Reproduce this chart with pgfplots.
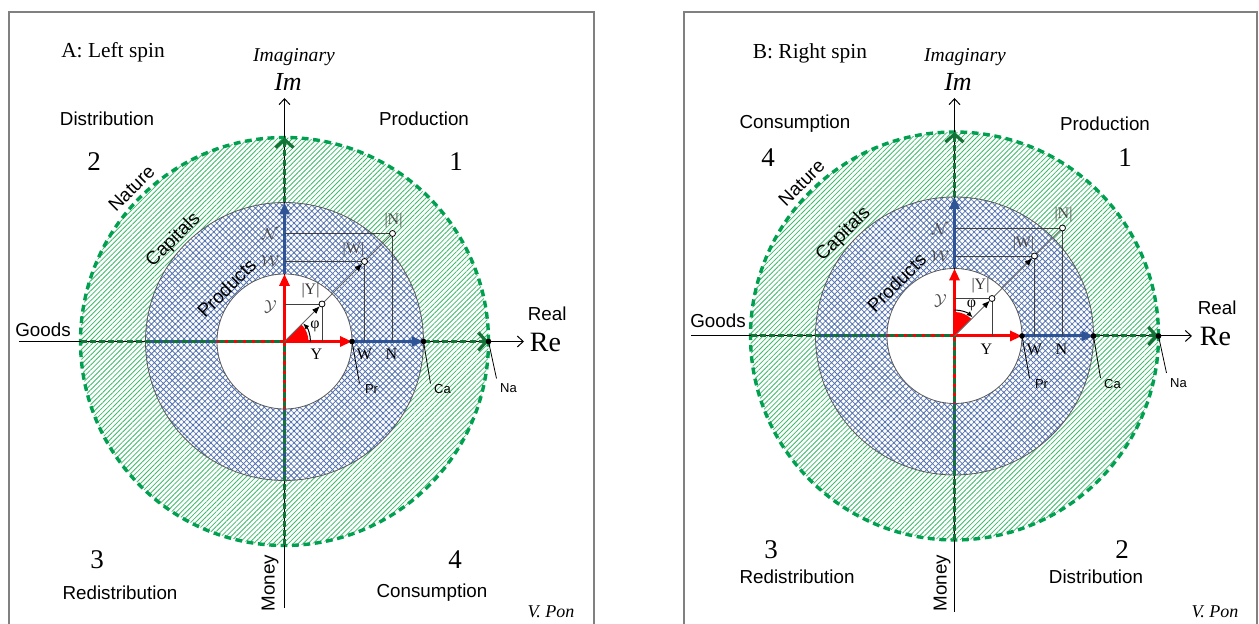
\documentclass[border=0pt]{standalone}
\usepackage{pgfplots}
\pgfplotsset{compat=1.18}
\usepackage{fontspec}
\setmainfont{Liberation Serif}
\newfontfamily\sans{Liberation Sans}
\usetikzlibrary{patterns.meta,arrows.meta}
\definecolor{hatchgreen}{RGB}{60,185,105}
\definecolor{circgreen}{RGB}{0,160,80}
\definecolor{axgreen}{RGB}{20,115,55}
\definecolor{xblue}{RGB}{46,84,150}
\definecolor{hblue}{RGB}{85,115,175}
\newcommand{\lab}{\sans\fontsize{9.4}{10}\selectfont}
\newcommand{\num}{\fontsize{13.5}{14}\selectfont}
\newcommand{\ttl}{\fontsize{10.7}{12}\selectfont}
\newcommand{\sm}{\sans\fontsize{6.5}{7}\selectfont}
\newcommand{\ser}{\fontsize{8}{9}\selectfont}
% common geometry: #1 left end, #2 right end, #3 bottom end, #4 top end of thin axes
\newcommand{\common}[4]{%
  \path[pattern={Lines[angle=45,distance=1.75pt,line width=0.4pt]}, pattern color=hatchgreen, even odd rule]
     (axis cs:0,0) circle[radius=102pt] (axis cs:0,0) circle[radius=69.5pt];
  \path[pattern={Hatch[angle=45,distance=2.1pt,line width=0.4pt]}, pattern color=hblue, even odd rule]
     (axis cs:0,0) circle[radius=69.5pt] (axis cs:0,0) circle[radius=33.75pt];
  \draw[black!65, line width=0.4pt] (axis cs:0,0) circle[radius=69.5pt];
  \draw[black!65, line width=0.4pt] (axis cs:0,0) circle[radius=33.75pt];
  \draw[circgreen, line width=1.7pt, dash pattern=on 3.4pt off 2.3pt] (axis cs:0,0) circle[radius=102pt];
  % thin axes
  \addplot[black, line width=0.5pt, -{Straight Barb[length=3pt,width=5.5pt]}] coordinates {(#1,0) (#2,0)};
  \addplot[black, line width=0.5pt, -{Straight Barb[length=3pt,width=5.5pt]}] coordinates {(0,#3) (0,#4)};
  % negative halves
  \addplot[red, line width=1.5pt] coordinates {(-67.5,0) (0,0)};
  \addplot[red, line width=1.5pt] coordinates {(0,-67.5) (0,0)};
  \addplot[xblue, line width=1.5pt] coordinates {(-139,0) (-67.5,0)};
  \addplot[xblue, line width=1.5pt] coordinates {(0,-139) (0,-67.5)};
  \addplot[axgreen, line width=1.5pt, dash pattern=on 3pt off 1.6pt] coordinates {(-204,0) (0,0)};
  \addplot[axgreen, line width=1.5pt, dash pattern=on 3pt off 1.6pt] coordinates {(0,-204) (0,0)};
  % outer green parts with chevrons
  \addplot[axgreen, line width=1.5pt, dash pattern=on 3pt off 1.6pt, -{Straight Barb[length=4pt,width=9pt,line width=1.6pt]}] coordinates {(139,0) (204,0)};
  \addplot[axgreen, line width=1.5pt, dash pattern=on 3pt off 1.6pt, -{Straight Barb[length=4pt,width=9pt,line width=1.6pt]}] coordinates {(0,139) (0,204)};
  % blue arrows
  \addplot[xblue, line width=1.5pt, -{Triangle[length=6pt,width=5pt]}] coordinates {(67.5,0) (139,0)};
  \addplot[xblue, line width=1.5pt, -{Triangle[length=6pt,width=5pt]}] coordinates {(0,67.5) (0,139)};
  % red arrows
  \addplot[red, line width=1.5pt, -{Triangle[length=6pt,width=5pt]}] coordinates {(0,0) (67.5,0)};
  \addplot[red, line width=1.5pt, -{Triangle[length=6pt,width=5pt]}] coordinates {(0,0) (0,67.5)};
  % projection lines
  \addplot[black!75, line width=0.45pt] coordinates {(0,37.5) (37.5,37.5) (37.5,0)};
  \addplot[black!75, line width=0.45pt] coordinates {(0,80) (80,80) (80,0)};
  \addplot[black!75, line width=0.45pt] coordinates {(0,108) (108,108) (108,0)};
}
\newcommand{\diag}{%
  \addplot[black!60, line width=0.45pt, -{Latex[length=4pt,width=3pt,color=black]}] coordinates {(0,0) (35.5,35.5)};
  \addplot[black!60, line width=0.45pt, -{Latex[length=4pt,width=3pt,color=black]}] coordinates {(37.5,37.5) (78,78)};
  \addplot[black!60, line width=0.45pt] coordinates {(80,80) (108,108)};
  \addplot[only marks, mark=*, mark size=1.5pt, mark options={fill=white, draw=black, line width=0.4pt}] coordinates {(37.5,37.5) (80,80) (108,108)};
  \addplot[black, line width=0.4pt] coordinates {(67.5,0) (75,-42)};
  \addplot[black, line width=0.4pt] coordinates {(139,0) (146,-42)};
  \addplot[black, line width=0.4pt] coordinates {(204,0) (212,-37)};
  \addplot[only marks, mark=*, mark size=1.2pt, black] coordinates {(67.5,0) (139,0) (204,0)};
  \node[font=\sm] at (axis cs:87,-48) {Pr};
  \node[font=\sm] at (axis cs:158,-48) {Ca};
  \node[font=\sm] at (axis cs:224,-47) {Na};
  \node[font=\ser] at (axis cs:32,-13) {Y};
  \node[font=\ser] at (axis cs:80,-13) {W};
  \node[font=\ser] at (axis cs:107,-13) {N};
  \node[font=\ser, text=black!70, inner sep=0pt] at (axis cs:-14.5,107) {$\mathcal{N}$};
  \node[font=\ser, text=black!70, inner sep=0pt] at (axis cs:-14.5,80) {$\mathcal{W}$};
  \node[font=\ser, text=black!70, inner sep=0pt] at (axis cs:-14,35) {$\mathcal{Y}$};
  \node[font=\ser, text=black!80, inner sep=0pt] at (axis cs:26,50.5) {|Y|};
  \node[font=\ser, text=black!70, inner sep=0pt] at (axis cs:69,92) {|W|};
  \node[font=\ser, text=black!70, inner sep=0pt] at (axis cs:109,121) {|N|};
  \node[font=\lab, rotate=45, inner sep=0pt] at (axis cs:-153,153) {Nature};
  \node[font=\lab, rotate=45, inner sep=0pt] at (axis cs:-111,101.5) {Capitals};
  \node[font=\lab, rotate=45, inner sep=0pt] at (axis cs:-58,53.5) {Products};
}
\begin{document}
\begin{tikzpicture}
\begin{axis}[at={(0pt,0pt)}, anchor=south west, scale only axis, width=320pt, height=312pt,
  xmin=-284.5, xmax=355.5, ymin=-282.5, ymax=341.5, hide axis, clip=false]
  \draw[black!50, line width=0.7pt] (axis cs:-275.5,-300) -- (axis cs:-275.5,329.5) -- (axis cs:309.5,329.5) -- (axis cs:309.5,-300);
  \common{-265.5}{239.5}{-266.5}{243.5}
  \fill[red] (axis cs:0,0) -- ++(0:12pt) arc[start angle=0,end angle=45,radius=12pt] -- cycle;
  \diag
  \draw[black, line width=0.5pt, -{Latex[length=3pt,width=2.6pt]}] (axis cs:0,0) ++(0:13pt) arc[start angle=0,end angle=44,radius=13pt];
  \node[font=\ser] at (axis cs:30.5,15) {φ};
  \node[font=\ttl] at (axis cs:-171.5,289.5) {A: Left spin};
  \node[font=\fontsize{9.8}{10}\selectfont\itshape] at (axis cs:9.5,284.5) {Imaginary};
  \node[font=\fontsize{13}{13}\selectfont\itshape] at (axis cs:3.5,259.5) {Im};
  \node[font=\lab] at (axis cs:-177.5,222.5) {Distribution};
  \node[font=\lab] at (axis cs:139.5,222.5) {Production};
  \node[font=\num] at (axis cs:-190.5,179.5) {2};
  \node[font=\num] at (axis cs:171.5,179.5) {1};
  \node[font=\lab] at (axis cs:-241.5,11.5) {Goods};
  \node[font=\lab, anchor=west, inner sep=0pt] at (axis cs:243,27.5) {Real};
  \node[font=\fontsize{14}{15}\selectfont, anchor=west, inner sep=0pt] at (axis cs:245,-1) {Re};
  \node[font=\num] at (axis cs:-187.5,-218.5) {3};
  \node[font=\num] at (axis cs:170.5,-218.5) {4};
  \node[font=\lab] at (axis cs:-164.5,-251.5) {Redistribution};
  \node[font=\lab] at (axis cs:147.5,-251.5) {Consumption};
  \node[font=\lab, rotate=90] at (axis cs:-14.5,-241.5) {Money};
  \node[font=\fontsize{9}{10}\selectfont\itshape] at (axis cs:266.5,-270.5) {V. Pon};
\end{axis}
\begin{axis}[at={(320pt,0pt)}, anchor=south west, scale only axis, width=309.5pt, height=312pt,
  xmin=-314.5, xmax=304.5, ymin=-288, ymax=336, hide axis, clip=false]
  \draw[black!50, line width=0.7pt] (axis cs:-270.5,-300) -- (axis cs:-270.5,324) -- (axis cs:302.5,324) -- (axis cs:302.5,-300);
  \common{-263.5}{237.5}{-276}{238}
  \fill[red] (axis cs:0,0) -- ++(90:12pt) arc[start angle=90,end angle=45,radius=12pt] -- cycle;
  \diag
  \draw[black, line width=0.5pt, -{Latex[length=3pt,width=2.6pt]}] (axis cs:0,0) ++(90:13pt) arc[start angle=90,end angle=46,radius=13pt];
  \node[font=\ser] at (axis cs:17,31) {φ};
  \node[font=\ttl] at (axis cs:-144.5,283) {B: Right spin};
  \node[font=\fontsize{9.8}{10}\selectfont\itshape] at (axis cs:10.5,279) {Imaginary};
  \node[font=\fontsize{13}{13}\selectfont\itshape] at (axis cs:3.5,254) {Im};
  \node[font=\lab] at (axis cs:-159.5,212) {Consumption};
  \node[font=\lab] at (axis cs:150.5,212) {Production};
  \node[font=\num] at (axis cs:-186.5,178) {4};
  \node[font=\num] at (axis cs:170.5,178) {1};
  \node[font=\lab] at (axis cs:-236.5,15) {Goods};
  \node[font=\lab, anchor=west, inner sep=0pt] at (axis cs:243,28) {Real};
  \node[font=\fontsize{14}{15}\selectfont, anchor=west, inner sep=0pt] at (axis cs:245,0) {Re};
  \node[font=\num] at (axis cs:-183.5,-214) {3};
  \node[font=\num] at (axis cs:167.5,-214) {2};
  \node[font=\lab] at (axis cs:-157.5,-241) {Redistribution};
  \node[font=\lab] at (axis cs:141.5,-241) {Distribution};
  \node[font=\lab, rotate=90] at (axis cs:-12.5,-247) {Money};
  \node[font=\fontsize{9}{10}\selectfont\itshape] at (axis cs:260.5,-276) {V. Pon};
\end{axis}
\pgfresetboundingbox
\useasboundingbox (0pt,0pt) rectangle (629.5pt,312pt);
\end{tikzpicture}
\end{document}
